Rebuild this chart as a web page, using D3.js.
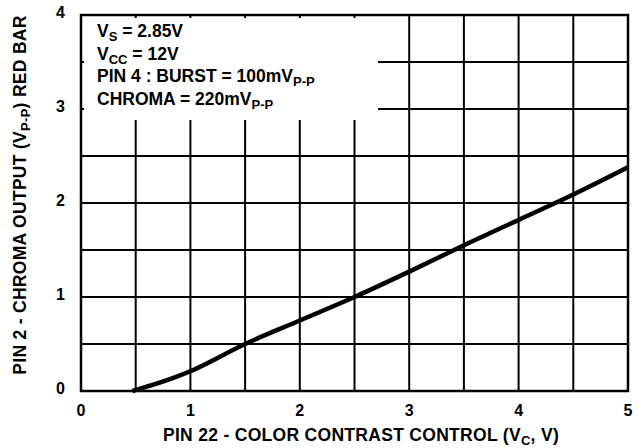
<!DOCTYPE html>
<html><head><meta charset="utf-8">
<script src="https://cdn.jsdelivr.net/npm/d3@7/dist/d3.min.js"></script>
<style>body{margin:0;background:#fff}text{font-family:"Liberation Sans",Arial,sans-serif;font-weight:bold;fill:#000}</style>
</head><body><svg id="c" width="639" height="448"></svg>
<script>
const xVals = [0.47, 0.8, 1.0, 1.5, 2.0, 2.5, 3.0, 3.5, 4.0, 4.5, 5.0];
const yVals = [0, 0.12, 0.21, 0.5, 0.75, 1.0, 1.27, 1.55, 1.82, 2.09, 2.38];
const xTicks = [0, 1, 2, 3, 4, 5];
const yTicks = [0, 1, 2, 3, 4];
const gridStep = [0.5, 1, 1.5, 2, 2.5, 3, 3.5, 4, 4.5];

const svg = d3.select("#c");
const L = 81, R = 628, T = 15, B = 391;
const x = d3.scaleLinear().domain([0, 5]).range([L, R]);
const y = d3.scaleLinear().domain([0, 4]).range([B, T]);

// grid
const g = svg.append("g").attr("stroke", "#000").attr("stroke-width", 2);
gridStep.forEach(v => {
  g.append("line").attr("x1", x(v)).attr("x2", x(v)).attr("y1", T).attr("y2", B);
});
gridStep.filter(v => v < 4).forEach(v => {
  g.append("line").attr("x1", L).attr("x2", R).attr("y1", y(v)).attr("y2", y(v));
});
// annotation box covering grid
const boxR = 378, boxB = 120;
svg.append("rect").attr("x", L + 1).attr("y", T + 1).attr("width", boxR - L - 1).attr("height", boxB - T - 1).attr("fill", "#fff");
// small ticks inside box
const tk = svg.append("g").attr("stroke", "#000").attr("stroke-width", 2);
gridStep.filter(v => x(v) < boxR).forEach(v => {
  tk.append("line").attr("x1", x(v)).attr("x2", x(v)).attr("y1", T).attr("y2", T + 3);
});
gridStep.filter(v => y(v) < boxB).forEach(v => {
  tk.append("line").attr("x1", L).attr("x2", L + 3).attr("y1", y(v)).attr("y2", y(v));
});
// border
svg.append("rect").attr("x", L).attr("y", T).attr("width", R - L).attr("height", B - T)
  .attr("fill", "none").attr("stroke", "#000").attr("stroke-width", 2.5);

// curve
const pts = xVals.map((v, i) => [v, yVals[i]]);
svg.append("path").datum(pts)
  .attr("d", d3.line().x(d => x(d[0])).y(d => y(d[1])).curve(d3.curveMonotoneX))
  .attr("fill", "none").attr("stroke", "#000").attr("stroke-width", 4.5).attr("stroke-linecap", "butt");

// tick labels
svg.append("g").selectAll("text").data(xTicks).join("text")
  .attr("x", d => x(d)).attr("y", 416).attr("text-anchor", "middle").attr("font-size", 16).text(d => d);
svg.append("g").selectAll("text").data(yTicks).join("text")
  .attr("x", 65).attr("y", d => y(d) - 3).attr("dy", "0.35em").attr("text-anchor", "end").attr("font-size", 16).text(d => d);

// axis titles
const xt = svg.append("text").attr("x", 361).attr("y", 441).attr("text-anchor", "middle").attr("font-size", 17.5).attr("letter-spacing", 0.3);
xt.append("tspan").text("PIN 22 - COLOR CONTRAST CONTROL (V");
xt.append("tspan").attr("font-size", 13).attr("dy", 3.5).text("C");
xt.append("tspan").attr("dy", -3.5).text(", V)");

const yt = svg.append("text").attr("transform", "translate(26,195) rotate(-90)").attr("text-anchor", "middle").attr("font-size", 17.5).attr("letter-spacing", 0.3);
yt.append("tspan").text("PIN 2 - CHROMA OUTPUT (V");
yt.append("tspan").attr("font-size", 13).attr("dy", 3.5).text("P-P");
yt.append("tspan").attr("dy", -3.5).text(") RED BAR");

// annotations
const notes = [
  {main: "V", sub: "S", rest: " = 2.85V", y: 37},
  {main: "V", sub: "CC", rest: " = 12V", y: 59.5},
  {main: "PIN 4 : BURST = 100mV", sub: "P-P", rest: "", y: 82},
  {main: "CHROMA = 220mV", sub: "P-P", rest: "", y: 104.5}
];
notes.forEach(n => {
  const t = svg.append("text").attr("x", 97).attr("y", n.y).attr("font-size", 17.5);
  t.append("tspan").text(n.main);
  t.append("tspan").attr("font-size", 13).attr("dy", 4).text(n.sub);
  if (n.rest) t.append("tspan").attr("dy", -4).text(n.rest);
});
</script></body></html>
